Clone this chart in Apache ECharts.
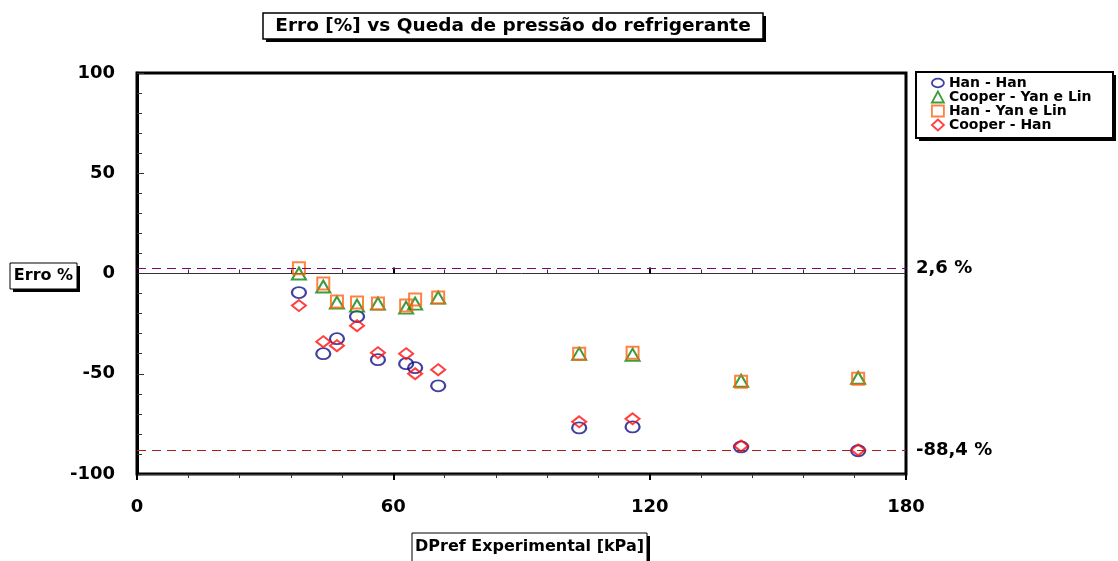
<!DOCTYPE html>
<html>
<head>
<meta charset="utf-8">
<script src="https://cdn.jsdelivr.net/npm/echarts@6/dist/echarts.min.js"></script>
<style>
html, body { margin: 0; padding: 0; background: #fff; }
#chart { width: 1118px; height: 561px; }
</style>
</head>
<body>
<div id="chart"></div>
<script>
var chart = echarts.init(document.getElementById('chart'));
var FONT = '"DejaVu Sans", "Liberation Sans", Arial, sans-serif';

// DPref experimental [kPa]
var dpExp = [37.9, 43.6, 46.8, 51.5, 56.4, 63.0, 65.1, 70.5, 103.5, 116.0, 141.4, 168.8];
// erro [%] de cada correlacao
var hanHan = [-9.5, -40, -32.5, -21.5, -43, -45, -47, -56, -77, -76.5, -86.5, -88.4];
var cooperYanLin = [0, -6.5, -14.5, -16, -15, -17, -15, -12, -40, -40.5, -53.5, -52];
var hanYanLin = [2.6, -5, -14, -14.5, -15, -16, -13, -12, -40, -39.5, -54, -52.5];
var cooperHan = [-16, -34, -36, -26, -39.5, -40, -50, -48, -74, -72.5, -86, -88];

var seriesNames = ['Han - Han', 'Cooper - Yan e Lin', 'Han - Yan e Lin', 'Cooper - Han'];
var seriesColors = ['#10108a', '#0a850a', '#ff6410', '#ff1010'];

// linhas de erro max / min
var limitValues = [2.6, -88.4];
var limitLabels = ['2,6 %', '-88,4 %'];
var limitColors = ['#800080', '#b31b1b'];

var ellipse = 'path://M0,5A7,5 0 1,1 14,5A7,5 0 1,1 0,5Z';
var symbols = [ellipse, 'triangle', 'rect', 'diamond'];
var symbolSizes = [[14, 11], [14, 12], [12, 12], [14, 11]];
var allData = [hanHan, cooperYanLin, hanYanLin, cooperHan];

function pairs(ys) {
	return dpExp.map(function (x, i) { return [x, ys[i]]; });
}

var seriesArr = [];
for (var i = 0; i < allData.length; i++) {
	seriesArr.push({
		name: seriesNames[i],
		type: 'scatter',
		data: pairs(allData[i]),
		symbol: symbols[i],
		symbolSize: symbolSizes[i],
		itemStyle: {
			color: 'transparent',
			borderColor: seriesColors[i],
			borderWidth: 2
		},
		z: 3
	});
}
seriesArr[0].markLine = {
	silent: true,
	animation: false,
	symbol: ['none', 'none'],
	label: {
		position: 'end',
		distance: 10,
		color: '#000',
		fontSize: 18,
		fontWeight: 'bold',
		fontFamily: FONT
	},
	data: limitValues.map(function (v, k) {
		return {
			yAxis: v,
			lineStyle: { color: limitColors[k], type: [9, 6], width: 1 },
			label: { formatter: limitLabels[k] }
		};
	})
};

var legendData = seriesNames.map(function (n, k) {
	return {
		name: n,
		icon: symbols[k],
		itemStyle: { color: 'transparent', borderColor: seriesColors[k], borderWidth: 1.8 }
	};
});

var option = {
	animation: false,
	textStyle: { fontFamily: FONT },
	title: {
		text: 'Erro [%] vs Queda de pressão do refrigerante',
		left: 513,
		top: 15,
		padding: 0,
		textAlign: 'center',
		z: 10,
		textStyle: { fontSize: 18.5, fontWeight: 'bold', color: '#000', fontFamily: FONT, lineHeight: 22 }
	},
	legend: {
		orient: 'vertical',
		left: 931,
		top: 76,
		padding: 0,
		itemGap: 0,
		itemWidth: 12,
		itemHeight: 11,
		selectedMode: false,
		z: 10,
		textStyle: { fontSize: 14, fontWeight: 'bold', color: '#000', fontFamily: FONT, lineHeight: 13 },
		data: legendData
	},
	grid: {
		left: 137,
		right: 212,
		top: 73,
		bottom: 87,
		show: true,
		borderColor: '#000',
		borderWidth: 3,
		backgroundColor: 'transparent'
	},
	xAxis: [
		{
			type: 'value', min: 0, max: 180, interval: 60, position: 'bottom',
			axisLine: { show: false, onZero: false },
			axisTick: { show: false },
			splitLine: { show: false },
			axisLabel: { fontSize: 18, fontWeight: 'bold', color: '#000', margin: 24, fontFamily: FONT }
		},
		{
			type: 'value', min: 0, max: 180, interval: 60, position: 'bottom',
			axisLine: { show: true, onZero: true, lineStyle: { color: '#333', width: 1 } },
			axisTick: { inside: true, length: 6, lineStyle: { color: '#000', width: 2 } },
			minorTick: { show: true, splitNumber: 5, length: 4, lineStyle: { color: '#333', width: 1 } },
			axisLabel: { show: false },
			splitLine: { show: false }
		},
		{
			type: 'value', min: 0, max: 180, interval: 60, position: 'bottom',
			axisLine: { show: true, onZero: true, lineStyle: { color: '#333', width: 1 } },
			axisTick: { inside: false, length: 6, lineStyle: { color: '#000', width: 2 } },
			minorTick: { show: true, splitNumber: 5, length: 4, lineStyle: { color: '#333', width: 1 } },
			axisLabel: { show: false },
			splitLine: { show: false }
		}
	],
	yAxis: {
		type: 'value', min: -100, max: 100, interval: 50,
		axisLine: { show: true, onZero: false, lineStyle: { color: '#000', width: 3 } },
		axisTick: { inside: true, length: 7, lineStyle: { color: '#333', width: 1 } },
		minorTick: { show: true, splitNumber: 5, length: 5, lineStyle: { color: '#333', width: 1 } },
		splitLine: { show: false },
		axisLabel: { fontSize: 18, fontWeight: 'bold', color: '#000', margin: 22, fontFamily: FONT }
	},
	graphic: [
		// caixa do titulo
		{ type: 'rect', z: 1, shape: { x: 266, y: 16, width: 500, height: 26 }, style: { fill: '#000' } },
		{ type: 'rect', z: 2, shape: { x: 263, y: 13, width: 500, height: 26 }, style: { fill: '#fff', stroke: '#000', lineWidth: 1.5 } },
		// caixa da legenda
		{ type: 'rect', z: 1, shape: { x: 919, y: 75, width: 197, height: 66 }, style: { fill: '#000' } },
		{ type: 'rect', z: 2, shape: { x: 916, y: 72, width: 197, height: 66 }, style: { fill: '#fff', stroke: '#000', lineWidth: 2 } },
		// Erro %
		{ type: 'rect', z: 1, shape: { x: 13, y: 266, width: 67, height: 26 }, style: { fill: '#000' } },
		{ type: 'rect', z: 2, shape: { x: 10, y: 263, width: 67, height: 26 }, style: { fill: '#fff', stroke: '#000', lineWidth: 1 } },
		{ type: 'text', z: 5, x: 43.5, y: 276, style: { text: 'Erro %', font: 'bold 16px ' + FONT, fill: '#000', textAlign: 'center', textVerticalAlign: 'middle', align: 'center', verticalAlign: 'middle' } },
		// DPref Experimental
		{ type: 'rect', z: 1, shape: { x: 415, y: 536, width: 235, height: 30 }, style: { fill: '#000' } },
		{ type: 'rect', z: 2, shape: { x: 412, y: 533, width: 235, height: 30 }, style: { fill: '#fff', stroke: '#000', lineWidth: 1 } },
		{ type: 'text', z: 5, x: 529.5, y: 547, style: { text: 'DPref Experimental [kPa]', font: 'bold 16px ' + FONT, fill: '#000', textAlign: 'center', textVerticalAlign: 'middle', align: 'center', verticalAlign: 'middle' } }
	],
	series: seriesArr
};
chart.setOption(option);

window.onresize = function () {
	chart.resize();
};
</script>
</body>
</html>
